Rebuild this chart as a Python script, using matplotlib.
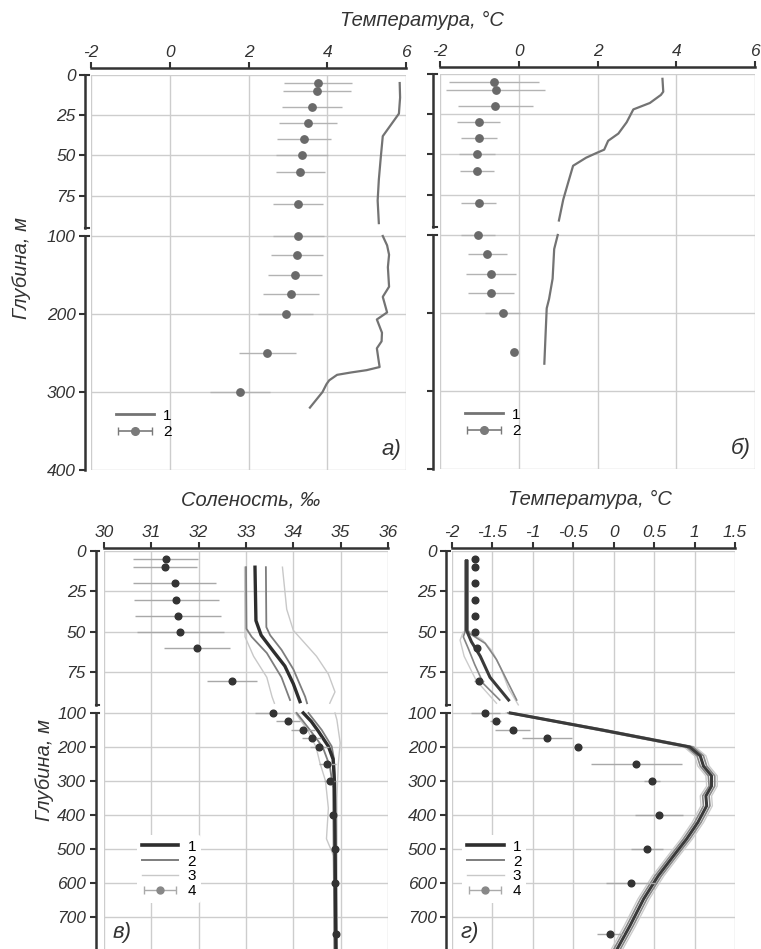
import numpy as np
import matplotlib
matplotlib.use('Agg')
import matplotlib.pyplot as plt
from matplotlib.lines import Line2D
from matplotlib.legend_handler import HandlerErrorbar

plt.rcParams['font.family'] = ['Liberation Sans', 'DejaVu Sans']
plt.rcParams['font.style'] = 'italic'
plt.rcParams['axes.unicode_minus'] = False

# --- panel а: temperature profile (1) and mean +/- sd (2)
a_line_depth = [5, 14, 24, 38, 51, 65, 78, 92, np.nan,
                100, 112, 124, 140, 165, 178, 198, 207, 224, 235, 244, 258, 268,
                272, 275, 278, 285, 290, 300, 310, 320]
a_line_temp = [5.84, 5.85, 5.82, 5.41, 5.36, 5.31, 5.28, 5.31, np.nan,
               5.41, 5.52, 5.57, 5.54, 5.57, 5.41, 5.52, 5.26, 5.39, 5.38, 5.26, 5.30, 5.33,
               5.00, 4.60, 4.25, 4.05, 3.98, 3.88, 3.72, 3.56]
a_pts_depth = [5, 10, 20, 30, 40, 50, 60, 80, 100, 125, 150, 175, 200, 250, 300]
a_pts_temp = [3.77, 3.74, 3.62, 3.51, 3.41, 3.36, 3.32, 3.26, 3.26, 3.22, 3.18, 3.08, 2.95, 2.48, 1.78]
a_pts_err = [0.86, 0.86, 0.76, 0.73, 0.68, 0.66, 0.63, 0.63, 0.65, 0.66, 0.69, 0.70, 0.70, 0.73, 0.77]

# --- panel б
b_line_depth = [3, 11, 13, 18, 22, 30, 37, 41.5, 47, 49, 52, 57, 67, 78, 91, np.nan,
                100, 118, 156, 182, 194, 229, 265]
b_line_temp = [3.65, 3.67, 3.61, 3.33, 2.91, 2.74, 2.53, 2.27, 2.17, 1.98, 1.71, 1.38, 1.26, 1.13, 1.02, np.nan,
               0.99, 0.90, 0.86, 0.77, 0.71, 0.68, 0.65]
b_pts_depth = [5, 10, 20, 30, 40, 50, 60, 80, 100, 125, 150, 175, 200, 250]
b_pts_temp = [-0.62, -0.59, -0.60, -1.02, -1.01, -1.07, -1.06, -1.02, -1.03, -0.80, -0.71, -0.71, -0.41, -0.11]
b_pts_err = [1.14, 1.26, 0.95, 0.54, 0.45, 0.46, 0.44, 0.44, 0.43, 0.50, 0.63, 0.59, 0.44, 0.0]

top_xticks = [-2, 0, 2, 4, 6]
top_yticks = [0, 25, 50, 75, 100, 200, 300, 400]

# --- panel в: salinity
v1_depth = [10, 43, 52, 62, 71, 82, 93, np.nan, 100, 125, 154, 198, 236, 305, 451, 797]
v1_sal = [33.19, 33.21, 33.32, 33.58, 33.82, 34.00, 34.14, np.nan, 34.21, 34.38, 34.53, 34.74, 34.84, 34.87, 34.88, 34.90]
v2a_depth = [10, 48, 53, 63, 78, 92, np.nan, 100, 150, 200, 256, 320, 800]
v2a_sal = [33.00, 33.01, 33.12, 33.44, 33.75, 33.93, np.nan, 34.07, 34.35, 34.62, 34.77, 34.84, 34.87]
v2b_depth = [10, 47, 52, 61, 73, 90, 94, np.nan, 100, 150, 198, 236, 300, 800]
v2b_sal = [33.42, 33.43, 33.51, 33.75, 34.00, 34.25, 34.29, np.nan, 34.32, 34.60, 34.81, 34.86, 34.88, 34.91]
v3a_depth = [10, 50, 53, 65, 78, 90, 94, np.nan, 100, 150, 200, 246, 300, 380, 470, 520, 800]
v3a_sal = [32.97, 32.98, 32.98, 33.16, 33.44, 33.55, 33.60, np.nan, 34.04, 34.30, 34.48, 34.56, 34.68, 34.74, 34.70, 34.85, 34.86]
v3b_depth = [10, 36, 49, 65, 76, 87, 94, np.nan, 100, 120, 188, 250, 350, 800]
v3b_sal = [33.77, 33.86, 34.00, 34.49, 34.74, 34.88, 34.77, np.nan, 34.88, 34.92, 34.99, 34.95, 34.92, 34.93]
v_pts_depth = [5, 10, 20, 30, 40, 50, 60, 80, 100, 125, 150, 175, 200, 250, 300, 400, 500, 600, 750]
v_pts_sal = [31.30, 31.29, 31.49, 31.53, 31.56, 31.61, 31.96, 32.71, 33.56, 33.89, 34.21, 34.39, 34.55,
             34.72, 34.77, 34.83, 34.88, 34.88, 34.91]
v_pts_err = [0.69, 0.67, 0.87, 0.89, 0.91, 0.92, 0.70, 0.53, 0.37, 0.25, 0.25, 0.20, 0.20,
             0.18, 0.12, 0.05, 0.05, 0.05, 0.05]
v_xticks = [30, 31, 32, 33, 34, 35, 36]

# --- panel г: temperature
g1_depth = [6, 49, 56, 65, 78, 92, np.nan,
            100, 149, 200, 226, 256, 285, 315, 344, 373, 422, 471, 520, 579, 647, 726, 795]
g1_temp = [-1.82, -1.82, -1.76, -1.65, -1.53, -1.30, np.nan,
           -1.28, -0.17, 0.94, 1.07, 1.11, 1.21, 1.21, 1.14, 1.15, 1.04, 0.90, 0.74, 0.55, 0.37, 0.20, 0.04]
g2a_depth = [6, 50, 53, 60, 70, 82, 92, np.nan,
             100, 149, 200, 226, 256, 285, 315, 344, 373, 422, 471, 520, 579, 647, 726, 795]
g2a_temp = [-1.84, -1.84, -1.86, -1.80, -1.72, -1.61, -1.41, np.nan,
            -1.31, -0.21, 0.90, 1.03, 1.07, 1.17, 1.18, 1.10, 1.11, 1.00, 0.86, 0.70, 0.51, 0.33, 0.16, 0.00]
g2b_depth = [6, 49, 51, 57, 67, 80, 92, np.nan,
             100, 149, 200, 226, 256, 285, 315, 344, 373, 422, 471, 520, 579, 647, 726, 795]
g2b_temp = [-1.80, -1.80, -1.78, -1.59, -1.45, -1.32, -1.20, np.nan,
            -1.25, -0.13, 0.98, 1.11, 1.15, 1.25, 1.25, 1.18, 1.19, 1.08, 0.94, 0.78, 0.59, 0.41, 0.24, 0.08]
g3a_depth = [50, 55, 65, 80, 94, np.nan,
             100, 149, 200, 226, 256, 285, 315, 344, 373, 422, 471, 520, 579, 647, 726, 795]
g3a_temp = [-1.86, -1.90, -1.85, -1.70, -1.45, np.nan,
            -1.33, -0.24, 0.87, 1.00, 1.04, 1.14, 1.15, 1.07, 1.08, 0.97, 0.83, 0.67, 0.48, 0.30, 0.13, -0.03]
g3b_depth = [50, 55, 62, 72, 85, 95, np.nan,
             100, 149, 200, 226, 256, 285, 315, 344, 373, 422, 471, 520, 579, 647, 726, 795]
g3b_temp = [-1.78, -1.62, -1.50, -1.40, -1.30, -1.18, np.nan,
            -1.22, -0.10, 1.01, 1.14, 1.18, 1.28, 1.28, 1.21, 1.22, 1.11, 0.97, 0.81, 0.62, 0.44, 0.27, 0.11]
g_pts_depth = [5, 10, 20, 30, 40, 50, 60, 80, 100, 125, 150, 175, 200, 250, 300, 400, 500, 600, 750]
g_pts_temp = [-1.72, -1.72, -1.72, -1.72, -1.72, -1.72, -1.69, -1.67, -1.59, -1.46, -1.25, -0.83, -0.44,
              0.28, 0.47, 0.56, 0.41, 0.21, -0.05]
g_pts_err = [0.01, 0.01, 0.01, 0.01, 0.01, 0.01, 0.03, 0.06, 0.18, 0.07, 0.22, 0.31, 0.05,
             0.56, 0.10, 0.30, 0.20, 0.30, 0.16]
g_xticks = [-2, -1.5, -1, -0.5, 0, 0.5, 1, 1.5]
g_xticklabels = ['-2', '-1.5', '-1', '-0.5', '0', '0.5', '1', '1.5']

bot_yticks = [0, 25, 50, 75, 100, 200, 300, 400, 500, 600, 700]

DARK = '#333333'
GRID = '#cdcdcd'


def depth_scale(k):
    # 0-100 m drawn at full scale, deeper part compressed by k
    def fwd(d):
        d = np.asarray(d, dtype=float)
        return np.where(d <= 100, d, 100 + (d - 100) * k)

    def inv(y):
        y = np.asarray(y, dtype=float)
        return np.where(y <= 100, y, 100 + (y - 100) / k)
    return fwd, inv


def setup_axes(ax, k, ylim, xlim, xticks, yticks, left_out, top_out, ylabels=True):
    ax.set_yscale('function', functions=depth_scale(k))
    ax.set_ylim(ylim, 0)
    ax.set_xlim(*xlim)
    ax.set_xticks(xticks)
    ax.set_yticks(yticks)
    ax.xaxis.tick_top()
    ax.grid(True, color=GRID, lw=1.0, zorder=0)
    ax.set_axisbelow(True)
    for s in ('right', 'bottom'):
        ax.spines[s].set_visible(False)
    ax.spines['top'].set_position(('outward', top_out))
    ax.spines['top'].set_color(DARK)
    ax.spines['top'].set_linewidth(1.8)
    ax.spines['left'].set_position(('outward', left_out))
    ax.spines['left'].set_visible(False)
    ax.tick_params(axis='x', direction='out', length=4, width=1.5, color=DARK,
                   labelsize=12.5, labelcolor=DARK, pad=2)
    ax.tick_params(axis='y', direction='out', length=4, width=1.5, color=DARK,
                   labelsize=12.5, labelcolor=DARK, pad=3, labelleft=ylabels)
    # broken left axis: two segments
    tr = ax.spines['left'].get_spine_transform()
    for y0, y1 in ((0, 95), (100, ylim)):
        ax.plot([0, 0], [y0, y1], color=DARK, lw=1.8, transform=tr, clip_on=False, zorder=5)
        ax.plot([0, 0.012], [y0, y0], color=DARK, lw=1.5, transform=tr, clip_on=False, zorder=5)
        if y1 == 95:
            ax.plot([0, 0.012], [y1, y1], color=DARK, lw=1.5, transform=tr, clip_on=False, zorder=5)


fig = plt.figure(figsize=(7.61, 9.49), dpi=100)
W, H = 761.0, 949.0


def rect(x0, x1, ytop, ybot):
    return [x0 / W, 1 - ybot / H, (x1 - x0) / W, (ybot - ytop) / H]


ax_a = fig.add_axes(rect(91, 406, 75, 470))
ax_b = fig.add_axes(rect(440, 755, 74, 469))
ax_v = fig.add_axes(rect(104, 388, 551, 949))
ax_g = fig.add_axes(rect(452, 735, 551, 949))

setup_axes(ax_a, 0.4845, 400, (-2, 6), top_xticks, top_yticks, 4, 5)
setup_axes(ax_b, 0.4845, 400, (-2, 6), top_xticks, top_yticks, 5, 5, ylabels=False)
setup_axes(ax_v, 0.21, 794, (30, 36), v_xticks, bot_yticks, 6, 2)
setup_axes(ax_g, 0.21, 794, (-2, 1.5), g_xticks, bot_yticks, 4, 2)
ax_g.set_xticklabels(g_xticklabels)

err_handler = {'errorbar': HandlerErrorbar(xerr_size=1.15)}

# top panels
for ax, ld, lt, pd_, pt, pe, tag in (
        (ax_a, a_line_depth, a_line_temp, a_pts_depth, a_pts_temp, a_pts_err, 'а)'),
        (ax_b, b_line_depth, b_line_temp, b_pts_depth, b_pts_temp, b_pts_err, 'б)')):
    ax.plot(lt, ld, color='#737373', lw=1.6, zorder=3)
    ax.errorbar(pt, pd_, xerr=pe, fmt='o', ms=5.3, color='#6a6a6a', ecolor='#b3b3b3',
                elinewidth=1.0, capsize=0, zorder=4)
    proxy = ax.errorbar([np.nan], [np.nan], xerr=[1], fmt='o', ms=5.5, color='#7a7a7a',
                        ecolor='#7a7a7a', elinewidth=1.2, capsize=3)
    h1 = Line2D([], [], color='#737373', lw=2.0)
    ax.legend([h1, proxy], ['1', '2'], loc='upper left', bbox_to_anchor=(0.035, 0.19),
              frameon=False, handlelength=2.5, handletextpad=0.6, labelspacing=0.15,
              handler_map={type(proxy): HandlerErrorbar(xerr_size=1.1)},
              prop={'style': 'normal', 'size': 11})
    ax.text(0.985, 0.025, tag, transform=ax.transAxes, ha='right', va='bottom',
            fontsize=16, color=DARK)

# panel в
ax_v.plot(v3a_sal, v3a_depth, color='#c8c8c8', lw=1.0, zorder=2)
ax_v.plot(v3b_sal, v3b_depth, color='#c8c8c8', lw=1.0, zorder=2)
ax_v.plot(v2a_sal, v2a_depth, color='#7d7d7d', lw=1.3, zorder=2)
ax_v.plot(v2b_sal, v2b_depth, color='#7d7d7d', lw=1.3, zorder=2)
ax_v.plot(v1_sal, v1_depth, color='#2e2e2e', lw=2.4, zorder=3)
ax_v.errorbar(v_pts_sal, v_pts_depth, xerr=v_pts_err, fmt='o', ms=4.8, color='#333333',
              ecolor='#a8a8a8', elinewidth=1.0, capsize=0, zorder=4)

# panel г
ax_g.plot(g3a_temp, g3a_depth, color='#cccccc', lw=1.0, zorder=2)
ax_g.plot(g3b_temp, g3b_depth, color='#cccccc', lw=1.0, zorder=2)
ax_g.plot(g2a_temp, g2a_depth, color='#858585', lw=1.2, zorder=2)
ax_g.plot(g2b_temp, g2b_depth, color='#858585', lw=1.2, zorder=2)
ax_g.plot(g1_temp, g1_depth, color='#3a3a3a', lw=2.2, zorder=3)
ax_g.errorbar(g_pts_temp, g_pts_depth, xerr=g_pts_err, fmt='o', ms=4.8, color='#333333',
              ecolor='#a8a8a8', elinewidth=1.0, capsize=0, zorder=4)

for ax, tag, anchor in ((ax_v, 'в)', (0.09, 0.305)), (ax_g, 'г)', (0.01, 0.305))):
    proxy = ax.errorbar([np.nan], [np.nan], xerr=[1], fmt='o', ms=5, color='#888888',
                        ecolor='#aaaaaa', elinewidth=1.0, capsize=3)
    hs = [Line2D([], [], color='#2e2e2e', lw=2.6),
          Line2D([], [], color='#7d7d7d', lw=1.4),
          Line2D([], [], color='#c8c8c8', lw=1.0),
          proxy]
    leg = ax.legend(hs, ['1', '2', '3', '4'], loc='upper left', bbox_to_anchor=anchor,
                    frameon=True, facecolor='white', edgecolor='none', framealpha=1,
                    handlelength=2.4, handletextpad=0.6, labelspacing=0.05,
                    borderpad=0.3, handler_map={type(proxy): HandlerErrorbar(xerr_size=1.05)},
                    prop={'style': 'normal', 'size': 11})
    leg.set_zorder(6)
    ax.text(0.03, 0.015, tag, transform=ax.transAxes, ha='left', va='bottom',
            fontsize=16, color=DARK)

# shared labels
fig.text(422 / W, 1 - 20 / H, 'Температура, °C', ha='center', va='center', fontsize=14.5, color=DARK)
fig.text(251 / W, 1 - 500 / H, 'Соленость, ‰', ha='center', va='center', fontsize=14.5, color=DARK)
fig.text(590 / W, 1 - 499 / H, 'Температура, °C', ha='center', va='center', fontsize=14.5, color=DARK)
fig.text(22 / W, 1 - 268 / H, 'Глубина, м', ha='center', va='center', rotation=90,
         fontsize=14.5, color=DARK)
fig.text(45 / W, 1 - 770 / H, 'Глубина, м', ha='center', va='center', rotation=90,
         fontsize=14.5, color=DARK)

fig.savefig('out.png', dpi=100)
